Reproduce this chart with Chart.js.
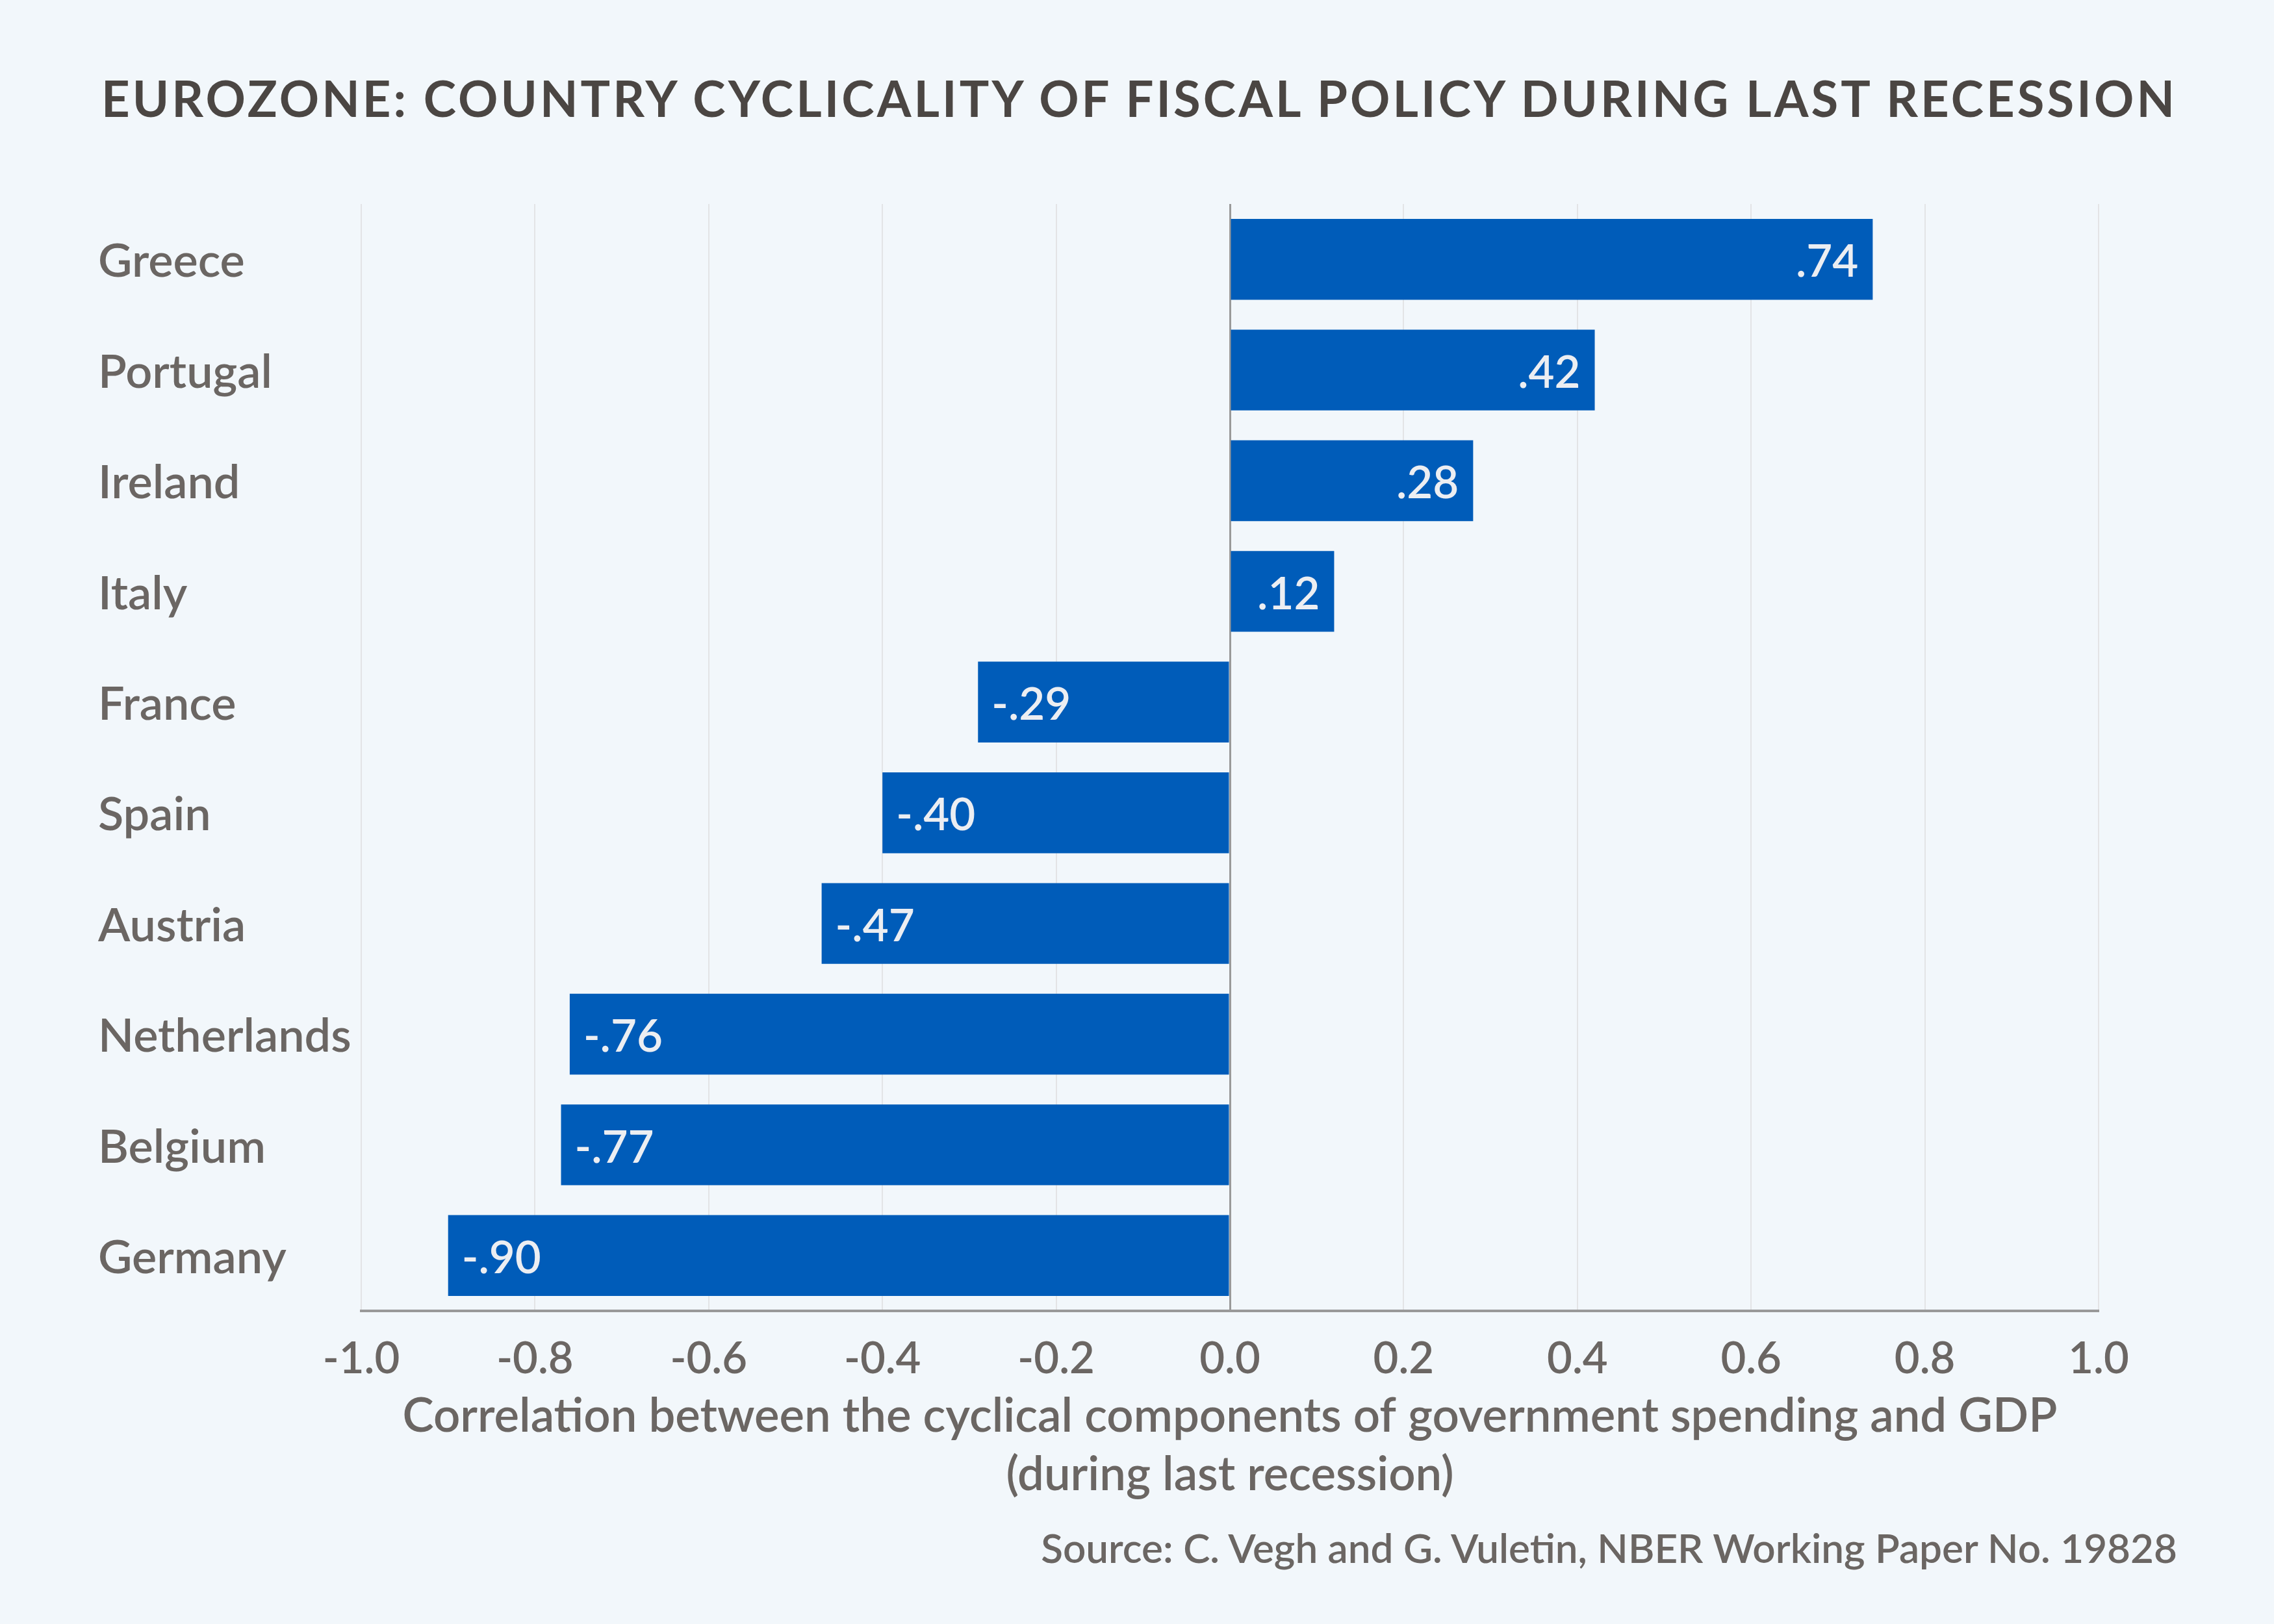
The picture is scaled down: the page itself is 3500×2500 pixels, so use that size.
<!DOCTYPE html>
<html>
<head>
<meta charset="utf-8">
<script src="https://cdn.jsdelivr.net/npm/chart.js@4.4.1/dist/chart.umd.min.js"></script>
<style>
  html, body { margin: 0; padding: 0; background: #F2F7FB; }
  #wrap { position: relative; width: 3500px; height: 2500px; overflow: hidden; background: #F2F7FB; }
  #c { position: absolute; left: 0; top: 0; }
  #title { position: absolute; left: 156px; top: 113px; font: 700 76px Lato, sans-serif; line-height: 76px; color: #4B4643; white-space: nowrap; }
  #source { position: absolute; right: 149px; top: 2351px; font: 600 62px Lato, sans-serif; line-height: 62px; color: #6B6663; white-space: nowrap; }
</style>
</head>
<body>
<div id="wrap">
  <canvas id="c" width="3500" height="2500"></canvas>
  <div id="title">EUROZONE: COUNTRY CYCLICALITY OF FISCAL POLICY DURING LAST RECESSION</div>
  <div id="source">Source: C. Vegh and G. Vuletin, NBER Working Paper No. 19828</div>
</div>
<script>
// ---- Data ----
const categories = ['Greece', 'Portugal', 'Ireland', 'Italy', 'France', 'Spain', 'Austria', 'Netherlands', 'Belgium', 'Germany'];
const values = [0.74, 0.42, 0.28, 0.12, -0.29, -0.40, -0.47, -0.76, -0.77, -0.90];
const valueLabels = ['.74', '.42', '.28', '.12', '-.29', '-.40', '-.47', '-.76', '-.77', '-.90'];
const xTickValues = [-1.0, -0.8, -0.6, -0.4, -0.2, 0.0, 0.2, 0.4, 0.6, 0.8, 1.0];
const xTickLabels = ['-1.0', '-0.8', '-0.6', '-0.4', '-0.2', '0.0', '0.2', '0.4', '0.6', '0.8', '1.0'];
const xAxisTitle = ['Correlation between the cyclical components of government spending and GDP', '(during last recession)'];

// ---- Styles ----
const BAR_COLOR = '#005CB9';
const TEXT_COLOR = '#6B6663';
const GRID_COLOR = '#E3E4E6';
const ZERO_COLOR = '#9A9A9A';

const barLabelPlugin = {
  id: 'barLabels',
  afterDatasetsDraw(chart) {
    const ctx = chart.ctx;
    const meta = chart.getDatasetMeta(0);
    ctx.save();
    ctx.font = '600 69px Lato';
    ctx.fillStyle = '#ECEEF2';
    ctx.textBaseline = 'middle';
    meta.data.forEach((bar, i) => {
      const v = values[i];
      if (v >= 0) {
        ctx.textAlign = 'right';
        ctx.fillText(valueLabels[i], bar.x - 22, bar.y + 5);
      } else {
        ctx.textAlign = 'left';
        ctx.fillText(valueLabels[i], bar.x + 21, bar.y + 5);
      }
    });
    ctx.restore();
  }
};

function fitTitle() {
  const el = document.getElementById('title');
  const target = 3347 - 156;
  el.style.letterSpacing = '0px';
  const w = el.getBoundingClientRect().width;
  const n = el.textContent.length;
  el.style.letterSpacing = ((target - w) / (n - 1)) + 'px';
}

async function draw() {
  try {
    await Promise.all([
      document.fonts.load('600 72px Lato'),
      document.fonts.load('700 75px Lato'),
      document.fonts.load('400 72px Lato')
    ]);
  } catch (e) {}
  fitTitle();
  Chart.defaults.font.family = 'Lato';
  new Chart(document.getElementById('c'), {
    type: 'bar',
    data: {
      labels: categories,
      datasets: [{
        data: values,
        backgroundColor: BAR_COLOR,
        borderWidth: 0,
        barPercentage: 0.73,
        categoryPercentage: 1.0
      }]
    },
    options: {
      indexAxis: 'y',
      responsive: false,
      animation: false,
      devicePixelRatio: 1,
      layout: { padding: { left: 151, right: 270, top: 314, bottom: 184 } },
      plugins: { legend: { display: false }, tooltip: { enabled: false } },
      scales: {
        x: {
          type: 'linear',
          position: 'bottom',
          min: -1,
          max: 1,
          afterBuildTicks: (s) => { s.ticks = xTickValues.map(v => ({ value: v })); },
          afterFit: (s) => { s.height = 298; },
          ticks: {
            callback: (v, i) => xTickLabels[i],
            font: { size: 67, weight: 600 },
            color: TEXT_COLOR,
            padding: 34,
            maxRotation: 0,
            autoSkip: false
          },
          grid: {
            drawTicks: false,
            color: (c) => (c.tick && c.tick.value === 0 ? ZERO_COLOR : GRID_COLOR),
            lineWidth: (c) => (c.tick && c.tick.value === 0 ? 3 : 2)
          },
          border: { display: true, color: '#999999', width: 4 },
          title: {
            display: true,
            text: xAxisTitle,
            font: { size: 72.5, weight: 600, lineHeight: 90 / 72.5 },
            color: TEXT_COLOR,
            padding: { top: 0, bottom: 0 }
          }
        },
        y: {
          afterFit: (s) => { s.width = 405; },
          ticks: {
            crossAlign: 'far',
            font: { size: 72, weight: 600 },
            color: TEXT_COLOR,
            padding: 0,
            labelOffset: 4,
            autoSkip: false
          },
          grid: { display: false },
          border: { display: false }
        }
      }
    },
    plugins: [barLabelPlugin]
  });
}
draw();
</script>
</body>
</html>
